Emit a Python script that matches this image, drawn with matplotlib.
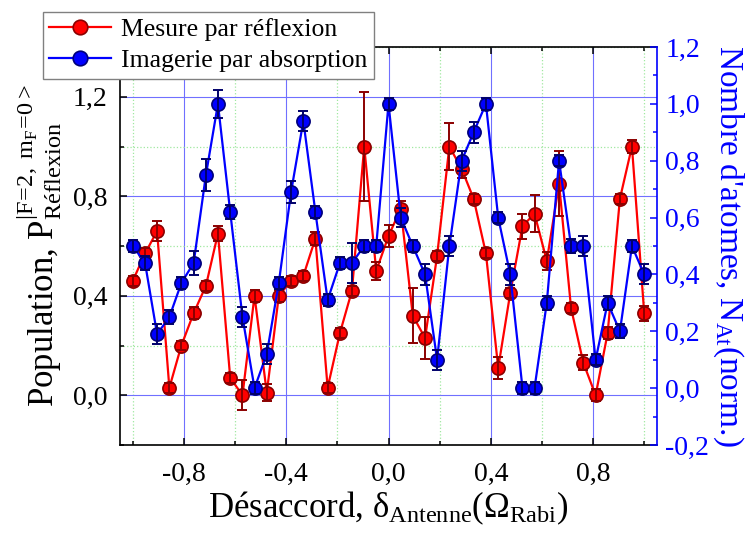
import matplotlib
matplotlib.use('Agg')
import matplotlib.pyplot as plt
from matplotlib.ticker import MultipleLocator, FuncFormatter
from matplotlib.lines import Line2D

plt.rcParams['font.family'] = ['Liberation Serif', 'DejaVu Serif']
plt.rcParams['mathtext.fontset'] = 'custom'
plt.rcParams['mathtext.rm'] = 'Liberation Serif'
plt.rcParams['mathtext.it'] = 'Liberation Serif:italic'
plt.rcParams['mathtext.bf'] = 'Liberation Serif:bold'

# Désaccord (en unités de Omega_Rabi)
detuning = [-1.0, -0.952, -0.905, -0.857, -0.810, -0.762, -0.714, -0.667, -0.619, -0.571,
            -0.524, -0.476, -0.429, -0.381, -0.333, -0.286, -0.238, -0.190, -0.143, -0.095,
            -0.048, 0.0, 0.048, 0.095, 0.143, 0.190, 0.238, 0.286, 0.333, 0.381,
            0.429, 0.476, 0.524, 0.571, 0.619, 0.667, 0.714, 0.762, 0.810, 0.857,
            0.905, 0.952, 1.0]

# Mesure par réflexion (axe gauche)
reflexion = [0.46, 0.57, 0.66, 0.03, 0.20, 0.33, 0.44, 0.65, 0.07, 0.00,
             0.40, 0.01, 0.40, 0.46, 0.48, 0.63, 0.03, 0.25, 0.42, 1.00,
             0.50, 0.64, 0.75, 0.32, 0.23, 0.56, 1.00, 0.91, 0.79, 0.57,
             0.11, 0.41, 0.68, 0.73, 0.54, 0.85, 0.35, 0.13, 0.00, 0.25,
             0.79, 1.00, 0.33]
reflexion_err = [0.02, 0.02, 0.04, 0.02, 0.02, 0.025, 0.02, 0.03, 0.02, 0.06,
                 0.025, 0.035, 0.025, 0.02, 0.02, 0.025, 0.02, 0.02, 0.02, 0.22,
                 0.035, 0.045, 0.03, 0.11, 0.085, 0.02, 0.095, 0.035, 0.02, 0.02,
                 0.045, 0.02, 0.05, 0.075, 0.035, 0.13, 0.02, 0.03, 0.025, 0.025,
                 0.02, 0.025, 0.03]

# Imagerie par absorption (axe droit)
absorption = [0.50, 0.44, 0.19, 0.25, 0.37, 0.44, 0.75, 1.00, 0.62, 0.25,
              0.00, 0.12, 0.37, 0.69, 0.94, 0.62, 0.31, 0.44, 0.44, 0.50,
              0.50, 1.00, 0.60, 0.50, 0.40, 0.10, 0.50, 0.80, 0.90, 1.00,
              0.60, 0.40, 0.00, 0.00, 0.30, 0.80, 0.50, 0.50, 0.10, 0.30,
              0.20, 0.50, 0.40]
absorption_err = [0.02, 0.025, 0.035, 0.025, 0.02, 0.043, 0.055, 0.05, 0.025, 0.035,
                  0.02, 0.035, 0.02, 0.04, 0.035, 0.02, 0.02, 0.02, 0.07, 0.02,
                  0.02, 0.02, 0.032, 0.02, 0.036, 0.035, 0.035, 0.035, 0.037, 0.02,
                  0.02, 0.036, 0.02, 0.02, 0.025, 0.02, 0.025, 0.035, 0.02, 0.025,
                  0.025, 0.02, 0.035]


def virgule(v, pos):
    if abs(v) < 1e-9:
        v = 0.0
    return f'{v:.1f}'.replace('.', ',')


fig = plt.figure(figsize=(7.51, 5.34), dpi=100)
ax = fig.add_axes([120 / 751, 1 - 445 / 534, 537 / 751, 398 / 534])
ax2 = ax.twinx()

ms = 9.5
# réflexion
ax.plot(detuning, reflexion, '-', color='#ff0000', lw=1.6, zorder=2)
ax.plot(detuning, reflexion, 'o', ms=ms, mfc='#ff0000', mec='#8b0000', mew=1.2, zorder=3)
ax.errorbar(detuning, reflexion, yerr=reflexion_err, fmt='none', ecolor='#8b0000',
            elinewidth=1.4, capsize=3.5, capthick=1.4, zorder=4)

# absorption
ax2.plot(detuning, absorption, '-', color='#0000ff', lw=1.6, zorder=2)
ax2.plot(detuning, absorption, 'o', ms=ms, mfc='#0000ff', mec='#00007a', mew=1.2, zorder=3)
ax2.errorbar(detuning, absorption, yerr=absorption_err, fmt='none', ecolor='#00006a',
             elinewidth=1.4, capsize=3.5, capthick=1.4, zorder=4)

ax.set_xlim(-1.05, 1.05)
ax.set_ylim(-0.2, 1.4)
ax2.set_ylim(-0.2, 1.2)

ax.xaxis.set_major_locator(MultipleLocator(0.4))
ax.xaxis.set_minor_locator(MultipleLocator(0.2))
ax.yaxis.set_major_locator(MultipleLocator(0.4))
ax.yaxis.set_minor_locator(MultipleLocator(0.2))
ax2.yaxis.set_major_locator(MultipleLocator(0.2))
ax2.yaxis.set_minor_locator(MultipleLocator(0.1))
for a in (ax.xaxis, ax.yaxis, ax2.yaxis):
    a.set_major_formatter(FuncFormatter(virgule))

# grille : bleue aux graduations principales, verte pointillée aux secondaires
ax.grid(which='major', color='#7070ff', lw=0.8)
ax.grid(which='minor', color='#a0e8a0', ls=':', lw=0.9)
ax.set_axisbelow(True)

ax.tick_params(which='both', direction='in', top=True, right=False, width=1.1)
ax.tick_params(which='major', length=5, labelsize=20, pad=9)
ax.tick_params(which='minor', length=3)
ax.tick_params(axis='x', pad=12)
ax2.tick_params(which='both', direction='in', colors='#0000ff', width=1.1)
ax2.tick_params(which='major', length=5, labelsize=20, pad=6)
ax2.tick_params(which='minor', length=3)

for s in ('left', 'top', 'bottom'):
    ax.spines[s].set_linewidth(1.2)
    ax2.spines[s].set_visible(False)
ax.spines['right'].set_visible(False)
ax2.spines['right'].set_color('#0000ff')
ax2.spines['right'].set_linewidth(1.2)

ax.set_xlabel('Désaccord, δ$_{\\mathrm{Antenne}}$(Ω$_{\\mathrm{Rabi}}$)', fontsize=25, labelpad=2)
ax.set_ylabel('Population, P$^{\\mathrm{|F\\!=\\!2,\\ m}_{\\mathrm{F}}\\mathrm{\\!=\\!0>}}_{\\mathrm{Réflexion}}$',
              fontsize=25, labelpad=6)
ax2.set_ylabel('Nombre d\'atomes, N$_{\\mathrm{At}}$(norm.)', fontsize=24, color='#0000ff',
               rotation=270, va='bottom', labelpad=1)

handles = [
    Line2D([], [], color='#ff0000', lw=1.6, marker='o', ms=ms + 1, mfc='#ff0000', mec='#8b0000', mew=1.2),
    Line2D([], [], color='#0000ff', lw=1.6, marker='o', ms=ms + 1, mfc='#0000ff', mec='#00007a', mew=1.2),
]
leg = fig.legend(handles, ['Mesure par réflexion', 'Imagerie par absorption'],
                 loc='upper left', bbox_to_anchor=(43 / 751, 1 - 12 / 534),
                 bbox_transform=fig.transFigure, fontsize=18.5, frameon=True, fancybox=False,
                 edgecolor='#808080', framealpha=1, borderpad=0.25, labelspacing=0.3,
                 handlelength=2.4, handletextpad=0.4, borderaxespad=0)
leg.get_frame().set_linewidth(1.0)

fig.savefig('out.png', dpi=100)
